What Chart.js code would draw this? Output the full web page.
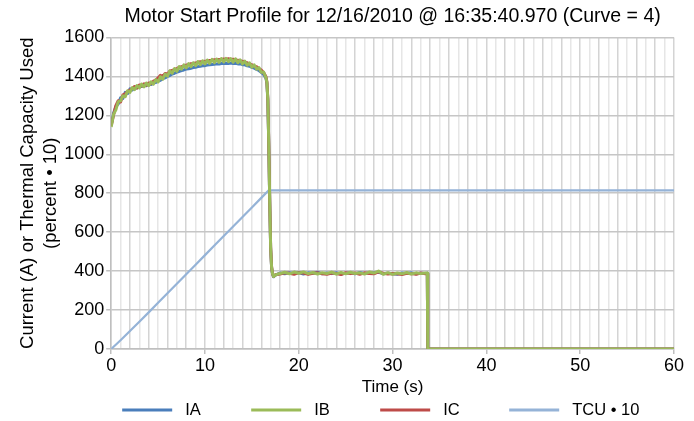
<!DOCTYPE html>
<html>
<head>
<meta charset="utf-8">
<script src="https://cdn.jsdelivr.net/npm/chart.js@4/dist/chart.umd.min.js"></script>
<style>
  html, body { margin: 0; padding: 0; background: #ffffff; }
  #wrap { width: 694px; height: 421px; }
</style>
</head>
<body>
<div id="wrap"><canvas id="c" width="694" height="421"></canvas></div>
<script>
// Sample times (s) shared by the three phase currents
const timeS = [
  0, 0.25, 0.5, 0.75, 1, 1.25, 1.5, 1.75, 2, 2.25, 2.5, 2.75, 3, 3.25, 3.5, 3.75,
  4, 4.25, 4.5, 4.75, 5, 5.25, 5.5, 5.75, 6, 6.25, 6.5, 6.75, 7, 7.25, 7.5, 7.75,
  8, 8.25, 8.5, 8.75, 9, 9.25, 9.5, 9.75, 10, 10.25, 10.5, 10.75, 11, 11.25, 11.5, 11.75,
  12, 12.25, 12.5, 12.75, 13, 13.25, 13.5, 13.75, 14, 14.25, 14.5, 14.75, 15, 15.25, 15.5, 15.75,
  16, 16.25, 16.5,
  16.6, 16.7, 16.8, 16.9, 17.0, 17.1, 17.2, 17.3, 17.5,
  18, 18.5, 19, 19.5, 20, 20.5, 21, 21.5, 22, 22.5, 23, 23.5, 24, 24.5, 25, 25.5,
  26, 26.5, 27, 27.5, 28, 28.5, 29, 29.5, 30, 30.5, 31, 31.5, 32, 32.5, 33, 33.5,
  33.7, 33.75, 60
];

// Phase A current (A)
const currentA = [
  1150, 1210, 1245, 1258, 1290, 1286, 1318, 1312, 1336, 1330,
  1344, 1340, 1352, 1348, 1356, 1352, 1361, 1358, 1366, 1368,
  1376, 1380, 1388, 1392, 1400, 1404, 1412, 1416, 1422, 1425,
  1430, 1433, 1437, 1439, 1442, 1445, 1447, 1450, 1452, 1454,
  1455, 1458, 1459, 1461, 1462, 1464, 1463, 1466, 1466, 1467,
  1466, 1468, 1466, 1467, 1464, 1465, 1460, 1459, 1454, 1452,
  1446, 1442, 1436, 1430, 1420, 1410, 1390,
  1365, 1275, 1045, 755, 515, 418, 385, 371, 379,
  390, 386, 392, 388, 393, 385, 391, 389, 394, 386, 390, 387, 392, 385, 389, 391,
  386, 393, 388, 390, 392, 394, 387, 389, 386, 384, 390, 388, 391, 386, 389, 388,
  389, 0, 0
];

// Phase B current (A)
const currentB = [
  1140, 1205, 1228, 1270, 1274, 1300, 1296, 1326, 1318, 1342,
  1332, 1353, 1341, 1360, 1346, 1366, 1352, 1372, 1360, 1383,
  1371, 1398, 1386, 1412, 1401, 1428, 1416, 1440, 1426, 1450,
  1437, 1459, 1444, 1465, 1450, 1470, 1455, 1476, 1460, 1480,
  1464, 1484, 1467, 1487, 1470, 1489, 1472, 1491, 1474, 1492,
  1475, 1491, 1473, 1490, 1470, 1485, 1464, 1478, 1457, 1469,
  1447, 1459, 1437, 1445, 1421, 1422, 1392,
  1370, 1280, 1050, 760, 520, 420, 386, 372, 380,
  388, 394, 386, 395, 389, 396, 387, 393, 385, 392, 388, 395, 384, 393, 386, 394,
  388, 391, 385, 395, 390, 400, 384, 392, 383, 390, 386, 393, 385, 391, 387, 390,
  390, 0, 0
];

// Phase C current (A)
const currentC = [
  1145, 1200, 1250, 1275, 1268, 1305, 1310, 1322, 1330, 1338,
  1348, 1340, 1356, 1350, 1362, 1355, 1366, 1362, 1375, 1380,
  1392, 1405, 1400, 1415, 1412, 1426, 1430, 1436, 1440, 1446,
  1450, 1453, 1458, 1460, 1465, 1466, 1469, 1471, 1475, 1474,
  1478, 1479, 1482, 1481, 1485, 1484, 1487, 1486, 1489, 1488,
  1490, 1487, 1488, 1484, 1483, 1478, 1478, 1472, 1470, 1462,
  1460, 1452, 1450, 1440, 1432, 1420, 1398,
  1372, 1285, 1055, 765, 525, 422, 387, 373, 381,
  385, 391, 389, 384, 392, 390, 383, 389, 391, 386, 384, 390, 388, 382, 392, 387,
  390, 384, 391, 388, 386, 396, 389, 385, 388, 386, 382, 389, 387, 384, 390, 386,
  387, 0, 0
];

// Thermal capacity used (percent x 10)
const tcuTime = [0, 1, 2, 3, 4, 5, 6, 7, 8, 9, 10, 11, 12, 13, 14, 15, 16, 16.8, 60];
const tcuPct10 = [0, 45, 92, 140, 188, 237, 286, 335, 384, 433, 482, 531, 580, 629, 678, 727, 776, 815, 815];

const seriesNames = ['IA', 'IB', 'IC', 'TCU \u2022 10'];
const seriesColors = ['#4a7ebb', '#9bbb59', '#be4b48', '#95b3d7'];

const yTicks = [0, 200, 400, 600, 800, 1000, 1200, 1400, 1600];
const xLabelStep = 10;

const FONT = "'Liberation Sans', Arial, sans-serif";
const TEXT = '#000000';

function pairs(xs, ys) {
  return xs.map((x, i) => ({ x: x, y: ys[i] }));
}

const datasets = [
  { label: seriesNames[0], data: pairs(timeS, currentA), borderColor: seriesColors[0], borderWidth: 3, order: 3 },
  { label: seriesNames[1], data: pairs(timeS, currentB), borderColor: seriesColors[1], borderWidth: 3, order: 1 },
  { label: seriesNames[2], data: pairs(timeS, currentC), borderColor: seriesColors[2], borderWidth: 3, order: 2 },
  { label: seriesNames[3], data: pairs(tcuTime, tcuPct10), borderColor: seriesColors[3], borderWidth: 2.2, order: 4 }
].map(d => Object.assign(d, {
  backgroundColor: d.borderColor,
  pointRadius: 0,
  tension: 0,
  fill: false,
  borderJoinStyle: 'round'
}));

// Legend row under the axis: a short coloured line followed by the series name,
// laid out at an even pitch from the left edge of the plot area.
const legendRow = {
  id: 'legendRow',
  afterDraw(chart) {
    const ctx = chart.ctx;
    const area = chart.chartArea;
    const pitch = 129, lineLen = 50, textGap = 13;
    const y = chart.height - 11;
    ctx.save();
    ctx.font = '16.5px ' + FONT;
    ctx.textBaseline = 'middle';
    ctx.textAlign = 'left';
    chart.data.datasets.forEach((ds, i) => {
      const x0 = area.left + 11 + i * pitch;
      ctx.fillStyle = ds.borderColor;
      ctx.fillRect(x0, y - 1.5, lineLen, 3);
      ctx.fillStyle = TEXT;
      ctx.fillText(ds.label, x0 + lineLen + textGap, y);
    });
    ctx.restore();
  }
};

new Chart(document.getElementById('c'), {
  type: 'line',
  data: { datasets: datasets },
  plugins: [legendRow],
  options: {
    responsive: false,
    animation: false,
    devicePixelRatio: 1,
    layout: { padding: { left: 17, right: 20, top: 2, bottom: 23 } },
    plugins: {
      title: {
        display: true,
        fullSize: false,
        text: 'Motor Start Profile for 12/16/2010 @ 16:35:40.970 (Curve = 4)',
        color: TEXT,
        font: { family: FONT, size: 19.5, weight: 'normal' },
        padding: { top: 3, bottom: 9 }
      },
      legend: { display: false },
      tooltip: { enabled: false }
    },
    scales: {
      x: {
        type: 'linear',
        min: 0,
        max: 60,
        title: {
          display: true,
          text: 'Time (s)',
          color: TEXT,
          font: { family: FONT, size: 17 },
          padding: { top: 0, bottom: 0 }
        },
        ticks: {
          stepSize: 1,
          autoSkip: false,
          maxRotation: 0,
          color: TEXT,
          font: { family: FONT, size: 18 },
          padding: 1,
          callback: (v) => (v % xLabelStep === 0 ? String(v) : '')
        },
        grid: {
          color: (ctx) => (ctx.tick && ctx.tick.value % 2 === 0 ? '#d4d4d4' : '#e6e6e6'),
          lineWidth: 1.5,
          tickLength: 5,
          tickColor: (ctx) => (ctx.tick && ctx.tick.value % xLabelStep === 0 ? '#bfbfbf' : 'rgba(0,0,0,0)')
        },
        border: { color: '#bfbfbf', width: 1.5 }
      },
      y: {
        type: 'linear',
        min: yTicks[0],
        max: yTicks[yTicks.length - 1],
        afterBuildTicks: (scale) => { scale.ticks = yTicks.map(v => ({ value: v })); },
        title: {
          display: true,
          text: ['Current (A) or Thermal Capacity Used', '(percent \u2022 10)'],
          color: TEXT,
          font: { family: FONT, size: 18.5, lineHeight: 1.22 },
          padding: { top: 0, bottom: 0 }
        },
        ticks: {
          color: TEXT,
          font: { family: FONT, size: 18 },
          padding: 2,
          callback: (v) => String(v)
        },
        grid: {
          color: '#c6c6c6',
          lineWidth: 1.5,
          tickLength: 5,
          tickColor: '#bfbfbf'
        },
        border: { color: '#bfbfbf', width: 1.5 }
      }
    }
  }
});
</script>
</body>
</html>
